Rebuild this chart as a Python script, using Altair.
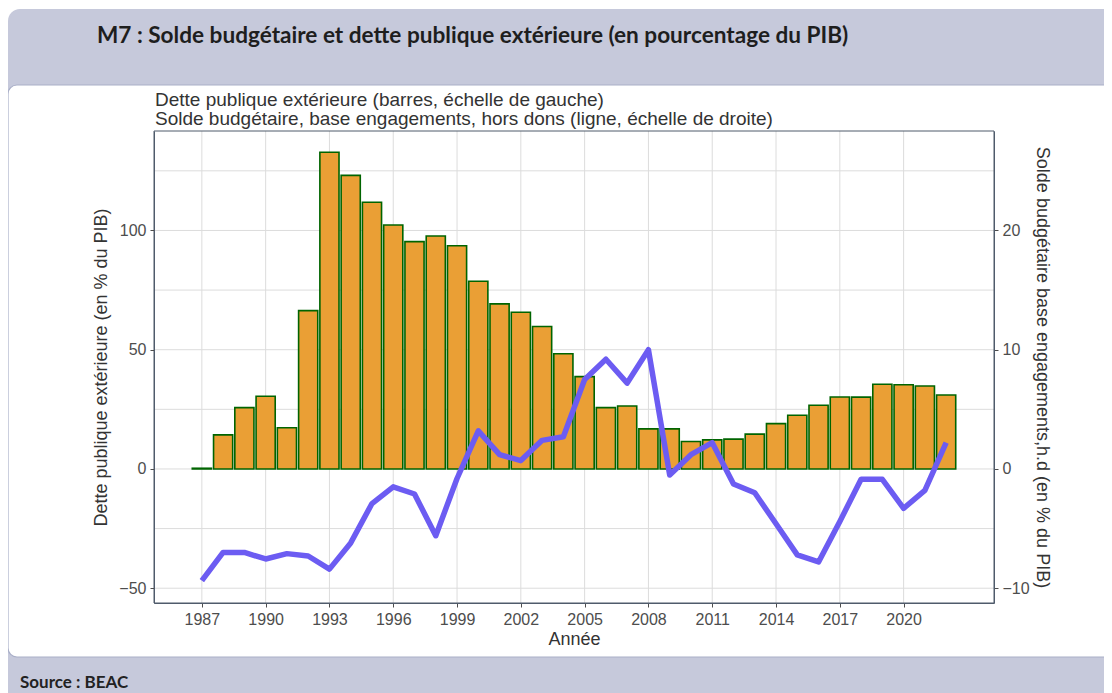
import altair as alt
import pandas as pd

# ---------------- data ----------------
years = list(range(1987, 2023))
dette = [0.3, 14.3, 25.7, 30.5, 17.3, 66.4, 132.8, 123.1, 111.8, 102.3, 95.3, 97.7,
         93.6, 78.7, 69.2, 65.7, 59.7, 48.3, 38.7, 25.7, 26.4, 16.8, 16.8, 11.5,
         12.2, 12.5, 14.6, 19.0, 22.5, 26.7, 30.2, 30.1, 35.5, 35.3, 34.8, 31.0]
solde = [-9.37, -7.0, -7.0, -7.55, -7.1, -7.3, -8.4, -6.2, -2.9, -1.5, -2.1, -5.6,
         -0.8, 3.2, 1.2, 0.7, 2.4, 2.7, 7.5, 9.2, 7.2, 10.0, -0.5, 1.2,
         2.2, -1.26, -2.0, -4.6, -7.2, -7.8, -4.4, -0.87, -0.87, -3.3, -1.8, 2.2]

x_ticks = list(range(1987, 2021, 3))
y_left_ticks = [-50, 0, 50, 100]
y_right_ticks = [-10, 0, 10, 20]
y_grid = [-50, -25, 0, 25, 50, 75, 100, 125]

title_text = "M7 : Solde budgétaire et dette publique extérieure (en pourcentage du PIB)"
legend_line1 = "Dette publique extérieure (barres, échelle de gauche)"
legend_line2 = "Solde budgétaire, base engagements, hors dons (ligne, échelle de droite)"
source_text = "Source : BEAC"
left_title = "Dette publique extérieure (en % du PIB)"
right_title = "Solde budgétaire base engagements,h.d (en % du PIB)"
x_title = "Année"

df = pd.DataFrame({"annee": years, "dette": dette, "solde": solde})

# ---------------- layout / style ----------------
W, H = 840, 472
LEFT_DOMAIN = [-56.2, 141.7]
RIGHT_DOMAIN = [-11.24, 28.34]
X_DOMAIN = [1984.75, 2024.25]
FONT = "Liberation Sans"
AXIS_COL = "#4F5B6B"
LABEL_COL = "#4D4D4D"
TITLE_COL = "#333333"
GRID_COL = "#DCDCDC"

xscale = alt.Scale(domain=X_DOMAIN, nice=False, zero=False)
lscale = alt.Scale(domain=LEFT_DOMAIN, nice=False, zero=False)
rscale = alt.Scale(domain=RIGHT_DOMAIN, nice=False, zero=False)

x_axis = alt.Axis(values=x_ticks, format="d", title=x_title, grid=False,
                  labelFontSize=16, labelColor=LABEL_COL, labelPadding=4,
                  tickSize=4, tickColor=LABEL_COL, domainColor=AXIS_COL,
                  titleFontSize=18, titleColor=TITLE_COL, titleFontWeight="normal",
                  titlePadding=3, zindex=1, labelFlush=False)

one = alt.Data(values=[{"k": 1}])

gray_panel = alt.Chart(one).mark_rect(fill="#C6C9DB", cornerRadius=12).encode(
    x=alt.value(-146), x2=alt.value(1000), y=alt.value(-122), y2=alt.value(620)
)
white_panel = alt.Chart(one).mark_rect(
    fill="white", stroke="#A9AFC8", strokeWidth=1.2, cornerRadius=9
).encode(x=alt.value(-146), x2=alt.value(1010), y=alt.value(-46), y2=alt.value(526))

vgrid = alt.Chart(pd.DataFrame({"g": x_ticks})).mark_rule(
    color=GRID_COL, strokeWidth=1
).encode(x=alt.X("g:Q", scale=xscale, axis=x_axis, title=x_title))

hgrid = alt.Chart(pd.DataFrame({"g": y_grid})).mark_rule(
    color=GRID_COL, strokeWidth=1
).encode(y=alt.Y("g:Q", scale=lscale, axis=None))

bars = alt.Chart(df).transform_calculate(
    x0="datum.annee - 0.45", x1="datum.annee + 0.45"
).mark_rect(fill="#EA9F35", stroke="#006400", strokeWidth=1.6).encode(
    x=alt.X("x0:Q", scale=xscale, axis=x_axis, title=x_title),
    x2="x1:Q",
    y=alt.Y("dette:Q", scale=lscale,
            axis=alt.Axis(values=y_left_ticks, title=left_title, grid=False,
                          labelFontSize=16, labelColor=LABEL_COL, labelPadding=4,
                          tickSize=4, tickColor=LABEL_COL, domainColor=AXIS_COL,
                          titleFontSize=18, titleColor=TITLE_COL, titleFontWeight="normal",
                          titlePadding=8, zindex=1)),
    y2=alt.datum(0),
)

line = alt.Chart(df).mark_line(
    color="#6C5CF2", strokeWidth=5.5, strokeJoin="round"
).encode(
    x=alt.X("annee:Q", scale=xscale, axis=x_axis, title=x_title),
    y=alt.Y("solde:Q", scale=rscale,
            axis=alt.Axis(orient="right", values=y_right_ticks, title=right_title, grid=False,
                          labelFontSize=16, labelColor=LABEL_COL, labelPadding=4,
                          tickSize=4, tickColor=LABEL_COL, domainColor=AXIS_COL,
                          titleFontSize=18, titleColor=TITLE_COL, titleFontWeight="normal",
                          titleAngle=90, titlePadding=3, zindex=1)),
)

border = alt.Chart(one).mark_rect(
    fill="white", fillOpacity=0, stroke=AXIS_COL, strokeWidth=1
).encode(x=alt.value(0), x2=alt.value(W), y=alt.value(0), y2=alt.value(H))

def txt(s, x, y, size, weight="normal", font=FONT, color=TITLE_COL):
    return alt.Chart(one).mark_text(
        text=s, align="left", baseline="alphabetic", font=font,
        fontSize=size, fontWeight=weight, color=color
    ).encode(x=alt.value(x), y=alt.value(y))

t_title = txt(title_text, -57, -88, 22.6, "bold", "Lato", "#1E1E1E")
t_l1 = txt(legend_line1, 1, -25, 19)
t_l2 = txt(legend_line2, 1, -6, 19)
t_src = txt(source_text, -134, 557, 17, "bold", "Lato", "#222222")

chart = alt.layer(
    gray_panel, white_panel, vgrid, hgrid, bars, line, border,
    t_title, t_l1, t_l2, t_src
).resolve_scale(y="independent").properties(
    width=W, height=H,
    padding={"left": 146, "top": 123, "right": 110, "bottom": 90},
    autosize=alt.AutoSizeParams(type="none"),
    background="white",
).configure_view(stroke=None).configure_axis(
    labelFont=FONT, titleFont=FONT
)

chart.save("out.html", embed_options={"renderer": "svg", "actions": False})
